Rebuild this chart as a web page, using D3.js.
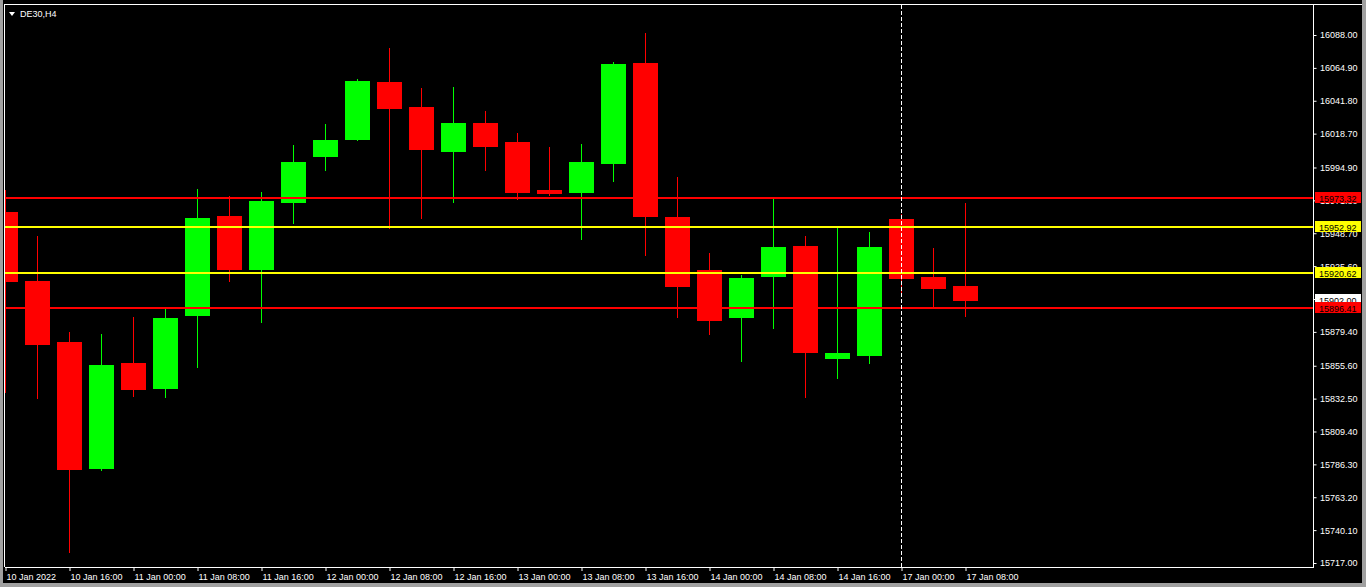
<!DOCTYPE html>
<html>
<head>
<meta charset="utf-8">
<script src="https://cdn.jsdelivr.net/npm/d3@7"></script>
<style>
  html, body { margin: 0; padding: 0; background: #000; }
  svg { display: block; }
  text { font-family: "Liberation Sans", Arial, sans-serif; }
</style>
</head>
<body>
<script>
// DE30 H4 candles
var times = ['10 Jan 2022', '', '10 Jan 16:00', '', '11 Jan 00:00', '', '11 Jan 08:00', '', '11 Jan 16:00', '',
             '12 Jan 00:00', '', '12 Jan 08:00', '', '12 Jan 16:00', '', '13 Jan 00:00', '', '13 Jan 08:00', '',
             '13 Jan 16:00', '', '14 Jan 00:00', '', '14 Jan 08:00', '', '14 Jan 16:00', '', '17 Jan 00:00', '',
             '17 Jan 08:00'];
var opens  = [15963.6, 15915.2, 15872.3, 15783.0, 15857.5, 15839.3, 15890.6, 15960.8, 15922.9, 15970.0,
              16002.3, 16014.2, 16055.0, 16037.4, 16005.8, 16026.2, 16012.8, 15979.1, 15977.0, 15997.4,
              16068.3, 15960.1, 15922.9, 15889.1, 15918.0, 15939.7, 15860.3, 15862.5, 15958.7, 15918.0,
              15911.6];
var highs  = [15979.0, 15946.8, 15879.3, 15877.9, 15889.9, 15896.2, 15979.8, 15974.9, 15977.7, 16010.7,
              16025.5, 16057.1, 16078.9, 16050.8, 16051.5, 16034.6, 16019.1, 16009.3, 16011.4, 16069.0,
              16089.4, 15988.2, 15934.8, 15919.4, 15972.8, 15946.8, 15952.4, 15949.6, 15962.2, 15938.3,
              15970.0];
var lows   = [15836.5, 15832.2, 15724.0, 15781.6, 15833.6, 15832.9, 15854.0, 15914.4, 15885.6, 15955.2,
              15992.4, 16013.5, 15951.7, 15958.7, 15970.0, 15992.4, 15972.1, 15974.9, 15944.0, 15984.7,
              15932.7, 15889.1, 15877.2, 15858.2, 15881.4, 15832.9, 15846.3, 15856.8, 15906.0, 15895.5,
              15889.9];
var closes = [15914.4, 15870.2, 15782.3, 15856.1, 15838.6, 15889.1, 15959.4, 15922.9, 15971.4, 15998.8,
              16014.2, 16055.7, 16036.0, 16007.2, 16026.2, 16009.3, 15977.0, 15976.3, 15998.8, 16067.6,
              15960.1, 15910.9, 15887.0, 15917.3, 15939.0, 15864.6, 15864.6, 15939.0, 15916.6, 15909.5,
              15901.1];

var priceTicks = [16088.00, 16064.90, 16041.80, 16018.70, 15994.90, 15971.80, 15948.70, 15925.60, 15902.50,
                  15879.40, 15855.60, 15832.50, 15809.40, 15786.30, 15763.20, 15740.10, 15717.00];

var levelValues = [15973.32, 15952.92, 15920.62, 15896.41];
var levelColors = ['#ff0000', '#ffff00', '#ffff00', '#ff0000'];
var bidPrice = 15902.00;
var cursorIndex = 28;

var W = 1366, H = 587;
var plotLeft = 5, plotRight = 1313, plotTop = 5, plotBottom = 567;
var fontSize = '9px';

var svg = d3.select('body').append('svg')
            .attr('width', W)
            .attr('height', H);

// window frame
svg.append('rect').attr('x', 0).attr('y', 0).attr('width', W).attr('height', H).attr('fill', '#000');
svg.append('rect').attr('x', 0).attr('y', 0).attr('width', 3).attr('height', H).attr('fill', '#a0a0a0');
svg.append('rect').attr('x', W - 4).attr('y', 0).attr('width', 4).attr('height', H).attr('fill', '#a0a0a0');
svg.append('rect').attr('x', 0).attr('y', H - 4).attr('width', W).attr('height', 4).attr('fill', '#a0a0a0');
svg.append('line').attr('x1', 4.5).attr('x2', 4.5).attr('y1', 4).attr('y2', plotBottom)
   .attr('stroke', '#fff');
svg.append('line').attr('x1', 4).attr('x2', W - 4).attr('y1', 4.5).attr('y2', 4.5)
   .attr('stroke', '#fff');

var x = d3.scaleLinear().domain([0, 30]).range([5, 965]);
var y = d3.scaleLinear().domain([15717, 16088]).range([563, 35]);

svg.append('defs').append('clipPath').attr('id', 'plotclip')
   .append('rect').attr('x', plotLeft).attr('y', plotTop)
   .attr('width', plotRight - plotLeft).attr('height', plotBottom - plotTop);

var plot = svg.append('g').attr('clip-path', 'url(#plotclip)');

var candles = d3.range(opens.length).map(function(i) {
  return { i: i, o: opens[i], h: highs[i], l: lows[i], c: closes[i] };
});
var colorOf = function(d) { return d.c >= d.o ? '#00ff00' : '#ff0000'; };

// wicks
plot.selectAll('.wick')
    .data(candles)
    .enter()
    .append('rect')
    .attr('class', 'wick')
    .attr('x', function(d) { return Math.round(x(d.i)); })
    .attr('width', 1)
    .attr('y', function(d) { return Math.round(y(d.h)); })
    .attr('height', function(d) { return Math.max(1, Math.round(y(d.l)) - Math.round(y(d.h))); })
    .attr('fill', colorOf);

// bodies
plot.selectAll('.body')
    .data(candles)
    .enter()
    .append('rect')
    .attr('class', 'body')
    .attr('x', function(d) { return Math.round(x(d.i)) - 12; })
    .attr('width', 25)
    .attr('y', function(d) { return Math.round(y(Math.max(d.o, d.c))); })
    .attr('height', function(d) {
      return Math.max(1, Math.round(y(Math.min(d.o, d.c))) - Math.round(y(Math.max(d.o, d.c))));
    })
    .attr('fill', colorOf);

// horizontal levels
plot.selectAll('.level')
    .data(levelValues)
    .enter()
    .append('line')
    .attr('x1', plotLeft)
    .attr('x2', plotRight)
    .attr('y1', function(d) { return Math.round(y(d)); })
    .attr('y2', function(d) { return Math.round(y(d)); })
    .attr('stroke', function(d, i) { return levelColors[i]; })
    .attr('stroke-width', 2);

// cursor line
svg.append('line')
   .attr('x1', Math.round(x(cursorIndex)) + 0.5)
   .attr('x2', Math.round(x(cursorIndex)) + 0.5)
   .attr('y1', plotTop)
   .attr('y2', plotBottom)
   .attr('stroke', '#fff')
   .attr('stroke-dasharray', '4,2');

// price axis
var yAxis = svg.append('g')
   .attr('transform', 'translate(' + plotRight + ',0)')
   .call(d3.axisRight(y).tickValues(priceTicks).tickSize(3).tickPadding(4)
           .tickFormat(function(d) { return d.toFixed(2); }));
yAxis.select('.domain').remove();
yAxis.selectAll('line').attr('stroke', '#fff').attr('transform', 'translate(0.5,0)');
yAxis.selectAll('text').attr('fill', '#fff').style('font-size', fontSize)
     .style('font-family', '"Liberation Sans", Arial, sans-serif');
svg.append('line').attr('x1', plotRight + 0.5).attr('x2', plotRight + 0.5)
   .attr('y1', plotTop).attr('y2', plotBottom + 1)
   .attr('stroke', '#fff');

// time axis
var xAxis = svg.append('g')
   .attr('transform', 'translate(0,' + plotBottom + ')')
   .call(d3.axisBottom(x).tickValues(d3.range(0, 31, 2)).tickSize(4).tickPadding(3)
           .tickFormat(function(d) { return times[d]; }));
xAxis.select('.domain').remove();
xAxis.selectAll('line').attr('stroke', '#fff').attr('transform', 'translate(0.5,0)');
xAxis.selectAll('text').attr('fill', '#fff').attr('text-anchor', 'start').attr('dx', 1)
     .style('font-size', fontSize).style('font-family', '"Liberation Sans", Arial, sans-serif');
svg.append('line').attr('x1', plotLeft).attr('x2', plotRight + 1)
   .attr('y1', plotBottom + 0.5).attr('y2', plotBottom + 0.5)
   .attr('stroke', '#fff');

// price boxes
var boxes = [{ v: bidPrice, fill: '#ffffff' }].concat(levelValues.map(function(v, i) {
  return { v: v, fill: levelColors[i] };
}));
var box = svg.selectAll('.pbox')
   .data(boxes)
   .enter()
   .append('g')
   .attr('class', 'pbox')
   .attr('transform', function(d) { return 'translate(' + (plotRight + 2) + ',' + Math.round(y(d.v)) + ')'; });
box.append('rect')
   .attr('x', 0).attr('y', -6).attr('width', 46).attr('height', 11)
   .attr('fill', function(d) { return d.fill; });
box.append('text')
   .attr('x', 4).attr('y', 3.5)
   .attr('fill', '#000')
   .style('font-size', fontSize)
   .text(function(d) { return d.v.toFixed(2); });

// title
svg.append('path').attr('d', 'M9,12 L15,12 L12,16 Z').attr('fill', '#fff');
svg.append('text').attr('x', 20).attr('y', 17).attr('fill', '#fff')
   .style('font-size', fontSize).text('DE30,H4');
</script>
</body>
</html>
